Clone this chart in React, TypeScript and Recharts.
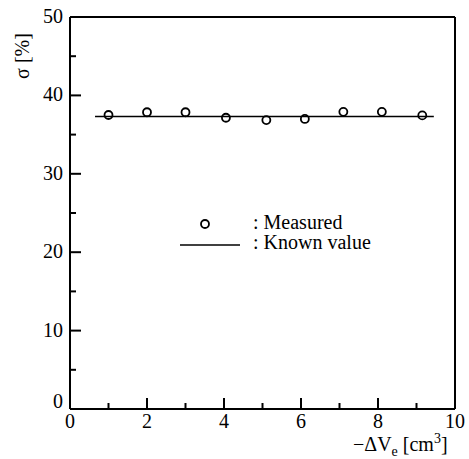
import React from "react";
import {
  ComposedChart,
  Scatter,
  XAxis,
  YAxis,
} from "recharts";

// measured points
const volumes = [1, 2, 3, 4.05, 5.1, 6.1, 7.1, 8.1, 9.15];
const sigma = [37.5, 37.85, 37.85, 37.15, 36.85, 37.0, 37.9, 37.9, 37.45];

// known value line
const knownX = [0.65, 9.45];
const knownValue = 37.3;

const xTicks = [0, 1, 2, 3, 4, 5, 6, 7, 8, 9, 10];
const yTicks = [0, 5, 10, 15, 20, 25, 30, 35, 40, 45, 50];

const FONT = '"Liberation Serif", "Times New Roman", serif';

const measured = volumes.map((v, i) => ({ x: v, y: sigma[i] }));
const known = knownX.map((x) => ({ x, y: knownValue }));

const BottomTick = (props: any) => {
  const { x, y, payload } = props;
  const v = payload.value;
  const major = v % 2 === 0;
  return (
    <g>
      <line x1={x} y1={y} x2={x} y2={y - (major ? 11 : 6)} stroke="#000" strokeWidth={2} />
      {major && (
        <text x={x} y={y + 19} textAnchor="middle" fontSize={20} fontFamily={FONT} fill="#000">
          {v}
        </text>
      )}
    </g>
  );
};

const TopTick = (props: any) => {
  const { x, y, payload } = props;
  const major = payload.value % 2 === 0;
  return <line x1={x} y1={y} x2={x} y2={y + (major ? 11 : 6)} stroke="#000" strokeWidth={2} />;
};

const LeftTick = (props: any) => {
  const { x, y, payload } = props;
  const v = payload.value;
  const major = v % 10 === 0;
  return (
    <g>
      <line x1={x} y1={y} x2={x + (major ? 11 : 6)} y2={y} stroke="#000" strokeWidth={2} />
      {major && (
        <text
          x={x - 7}
          y={y + (v === 0 ? -1 : 6)}
          textAnchor="end"
          fontSize={20}
          fontFamily={FONT}
          fill="#000"
        >
          {v}
        </text>
      )}
    </g>
  );
};

const RightTick = (props: any) => {
  const { x, y, payload } = props;
  const major = payload.value % 10 === 0;
  return <line x1={x} y1={y} x2={x - (major ? 11 : 6)} y2={y} stroke="#000" strokeWidth={2} />;
};

const OpenCircle = (props: any) => (
  <circle cx={props.cx} cy={props.cy} r={4} fill="none" stroke="#000" strokeWidth={1.8} />
);

export default function App() {
  return (
    <div style={{ position: "absolute", left: 0, top: 0, width: 469, height: 459, fontFamily: FONT }}>
      <ComposedChart
        width={469}
        height={459}
        margin={{ top: 16, right: 13, bottom: 49, left: 0 }}
      >
        <XAxis
          xAxisId={0}
          type="number"
          dataKey="x"
          domain={[0, 10]}
          ticks={xTicks}
          height={1}
          tickSize={0}
          tickMargin={0}
          tickLine={false}
          axisLine={{ stroke: "#000", strokeWidth: 2 }}
          tick={<BottomTick />}
          interval={0}
        />
        <XAxis
          xAxisId="top"
          orientation="top"
          type="number"
          domain={[0, 10]}
          ticks={xTicks}
          height={1}
          tickSize={0}
          tickMargin={0}
          tickLine={false}
          axisLine={{ stroke: "#000", strokeWidth: 2 }}
          tick={<TopTick />}
          interval={0}
        />
        <YAxis
          yAxisId={0}
          type="number"
          dataKey="y"
          domain={[0, 50]}
          ticks={yTicks}
          width={70}
          tickSize={0}
          tickMargin={0}
          tickLine={false}
          axisLine={{ stroke: "#000", strokeWidth: 2 }}
          tick={<LeftTick />}
          interval={0}
        />
        <YAxis
          yAxisId="right"
          orientation="right"
          type="number"
          domain={[0, 50]}
          ticks={yTicks}
          width={1}
          tickSize={0}
          tickMargin={0}
          tickLine={false}
          axisLine={{ stroke: "#000", strokeWidth: 2 }}
          tick={<RightTick />}
          interval={0}
        />
        <Scatter
          data={known}
          line={{ stroke: "#000", strokeWidth: 1.5 }}
          shape={() => <g />}
          isAnimationActive={false}
        />
        <Scatter data={measured} shape={<OpenCircle />} isAnimationActive={false} />
      </ComposedChart>
      <svg
        width={469}
        height={459}
        style={{ position: "absolute", left: 0, top: 0, pointerEvents: "none" }}
        fontFamily={FONT}
        fill="#000"
      >
        <text transform="translate(29,56) rotate(-90)" textAnchor="middle" fontSize={20}>
          σ [%]
        </text>
        <text x={353} y={451} fontSize={20}>
          −ΔV
          <tspan fontSize={14} dy={5}>e</tspan>
          <tspan dy={-5}> [cm</tspan>
          <tspan fontSize={14} dy={-8}>3</tspan>
          <tspan dy={8}>]</tspan>
        </text>
        <circle cx={205} cy={224} r={4} fill="none" stroke="#000" strokeWidth={1.8} />
        <text x={253} y={229} fontSize={20}>
          : Measured
        </text>
        <line x1={180} y1={245} x2={240} y2={245} stroke="#000" strokeWidth={1.5} />
        <text x={253} y={249} fontSize={20}>
          : Known value
        </text>
      </svg>
    </div>
  );
}
